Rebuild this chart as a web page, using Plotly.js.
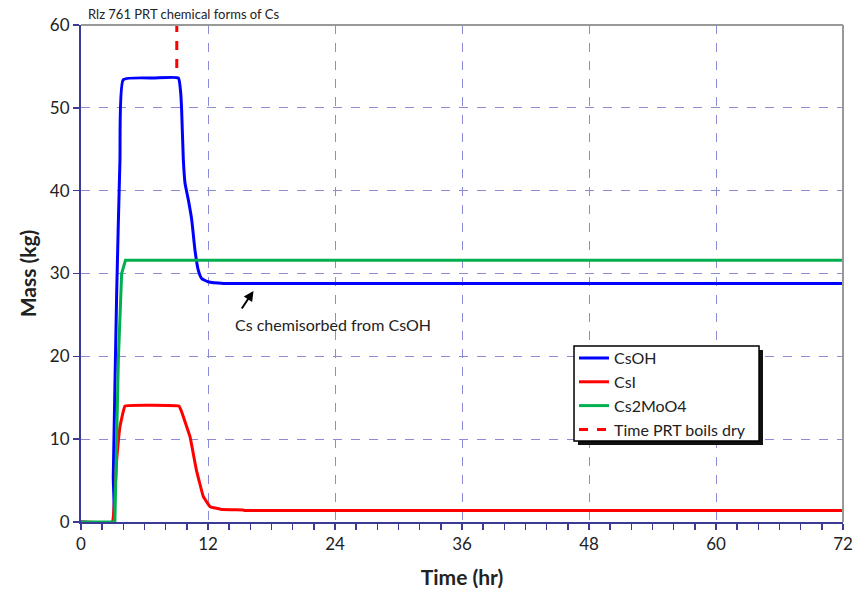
<!DOCTYPE html>
<html>
<head>
<meta charset="utf-8">
<script src="https://cdn.plot.ly/plotly-3.0.1.min.js"></script>
<style>
  html, body { margin: 0; padding: 0; background: #fff; }
  #chart { width: 855px; height: 592px; }
</style>
</head>
<body>
<div id="chart"></div>
<script>
// Cs chemical forms released over time (hours after start), mass in kg
const csohTime  = [0, 3.0, 3.05, 3.37, 3.68, 4.0, 7.0, 9.2, 9.42, 9.51, 9.67, 9.83, 10.14, 10.46, 10.77, 11.08, 11.4, 12.0, 13.5, 72];
const csohMass  = [0, 0, 5.5, 27.6, 43.7, 53.4, 53.6, 53.6, 51.8, 49.7, 43.7, 40.9, 38.9, 36.5, 32.8, 30.4, 29.4, 29.0, 28.8, 28.8];

const csiTime   = [0, 2.95, 3.37, 3.68, 4.16, 9.25, 9.45, 9.67, 10.3, 10.9, 11.56, 12.2, 13.4, 15.3, 15.5, 72];
const csiMass   = [0, 0, 7.5, 11.5, 14.0, 14.0, 13.5, 12.7, 10.3, 6.3, 3.05, 1.85, 1.5, 1.45, 1.4, 1.4];

const cs2mooTime = [0, 3.2, 3.53, 3.84, 4.2, 72];
const cs2mooMass = [0, 0, 19.6, 30.0, 31.6, 31.6];

// Marker for the time the PRT boils dry
const boilDryTime = [9.05, 9.05];
const boilDryMass = [54.8, 60];

const seriesNames = ['CsOH', 'CsI', 'Cs2MoO4', 'Time PRT boils dry'];
const xTicks = [0, 12, 24, 36, 48, 60, 72];
const yTicks = [0, 10, 20, 30, 40, 50, 60];

const axisColor = '#3b3b96';
const gridColor = '#8c8cd6';
const fontFamily = 'Lato, "Open Sans", sans-serif';
const tickFont = { family: fontFamily, size: 17, color: '#222' };

const traces = [
  { x: csohTime, y: csohMass, name: seriesNames[0], mode: 'lines',
    line: { color: '#0000ff', width: 3, shape: 'spline', smoothing: 0.4 } },
  { x: csiTime, y: csiMass, name: seriesNames[1], mode: 'lines',
    line: { color: '#ff0000', width: 3, shape: 'spline', smoothing: 0.2 } },
  { x: cs2mooTime, y: cs2mooMass, name: seriesNames[2], mode: 'lines',
    line: { color: '#00b050', width: 3 } },
  { x: boilDryTime, y: boilDryMass, name: seriesNames[3], mode: 'lines',
    line: { color: '#ff0000', width: 3, dash: 'dash' } }
];

const layout = {
  width: 855, height: 592,
  paper_bgcolor: '#fff', plot_bgcolor: '#fff',
  margin: { l: 81, r: 12, t: 25, b: 70 },
  title: {
    text: 'Rlz 761 PRT chemical forms of Cs',
    x: 88 / 855, xanchor: 'left', xref: 'container',
    y: 1 - 14 / 592, yanchor: 'middle', yref: 'container',
    font: { family: fontFamily, size: 13, color: '#222' }
  },
  showlegend: true,
  // legend entries sit on top of a framed box with a drop shadow (drawn as shapes)
  legend: {
    x: 0.647, y: 0.364, xanchor: 'left', yanchor: 'top',
    bgcolor: 'rgba(0,0,0,0)', borderwidth: 0,
    font: { family: fontFamily, size: 16, color: '#222' },
    tracegroupgap: 0, itemwidth: 30
  },
  xaxis: {
    range: [0, 72], tickvals: xTicks, ticktext: xTicks.map(String),
    showline: true, linecolor: axisColor, linewidth: 2,
    ticks: 'outside', ticklen: 6, tickwidth: 1.5, tickcolor: axisColor,
    minor: { dtick: 2, ticks: 'outside', ticklen: 6, tickwidth: 1.5, tickcolor: axisColor, showgrid: false },
    showgrid: true, gridcolor: gridColor, griddash: 'dash', gridwidth: 1,
    zeroline: false, tickfont: tickFont,
    title: { text: 'Time (hr)', standoff: 17,
      font: { family: fontFamily, size: 21, color: '#222', weight: 'bold' } }
  },
  yaxis: {
    range: [0, 60], tickvals: yTicks, ticktext: yTicks.map(String),
    showline: true, linecolor: axisColor, linewidth: 2,
    ticks: 'outside', ticklen: 6, tickwidth: 1.5, tickcolor: axisColor,
    showgrid: true, gridcolor: gridColor, griddash: 'dash', gridwidth: 1,
    zeroline: false, tickfont: tickFont,
    title: { text: 'Mass (kg)', standoff: 8,
      font: { family: fontFamily, size: 21, color: '#222', weight: 'bold' } }
  },
  shapes: [
    // top and right frame of the plotting area
    { type: 'line', xref: 'paper', yref: 'paper', x0: 0, x1: 1, y0: 1, y1: 1,
      line: { color: '#999', width: 2 } },
    { type: 'line', xref: 'paper', yref: 'paper', x0: 1, x1: 1, y0: 0, y1: 1,
      line: { color: '#999', width: 2 } },
    // legend drop shadow
    { type: 'rect', xref: 'paper', yref: 'paper', layer: 'above',
      x0: 0.6522, x1: 0.8950, y0: 0.1549, y1: 0.3461,
      fillcolor: '#111', line: { width: 0 } },
    // legend box
    { type: 'rect', xref: 'paper', yref: 'paper', layer: 'above',
      x0: 0.6470, x1: 0.8898, y0: 0.1630, y1: 0.3541,
      fillcolor: '#fff', line: { color: '#000', width: 1.5 } }
  ],
  annotations: [
    { x: 16.3, y: 27.9, ax: 15.1, ay: 25.6, axref: 'x', ayref: 'y', xref: 'x', yref: 'y',
      text: '', showarrow: true, arrowhead: 2, arrowsize: 1, arrowwidth: 2, arrowcolor: '#000' },
    { x: 23.8, y: 23.8, xref: 'x', yref: 'y', showarrow: false,
      text: 'Cs chemisorbed from CsOH',
      font: { family: fontFamily, size: 16, color: '#222' } }
  ]
};

Plotly.newPlot('chart', traces, layout, { displayModeBar: false, staticPlot: true });
</script>
</body>
</html>
